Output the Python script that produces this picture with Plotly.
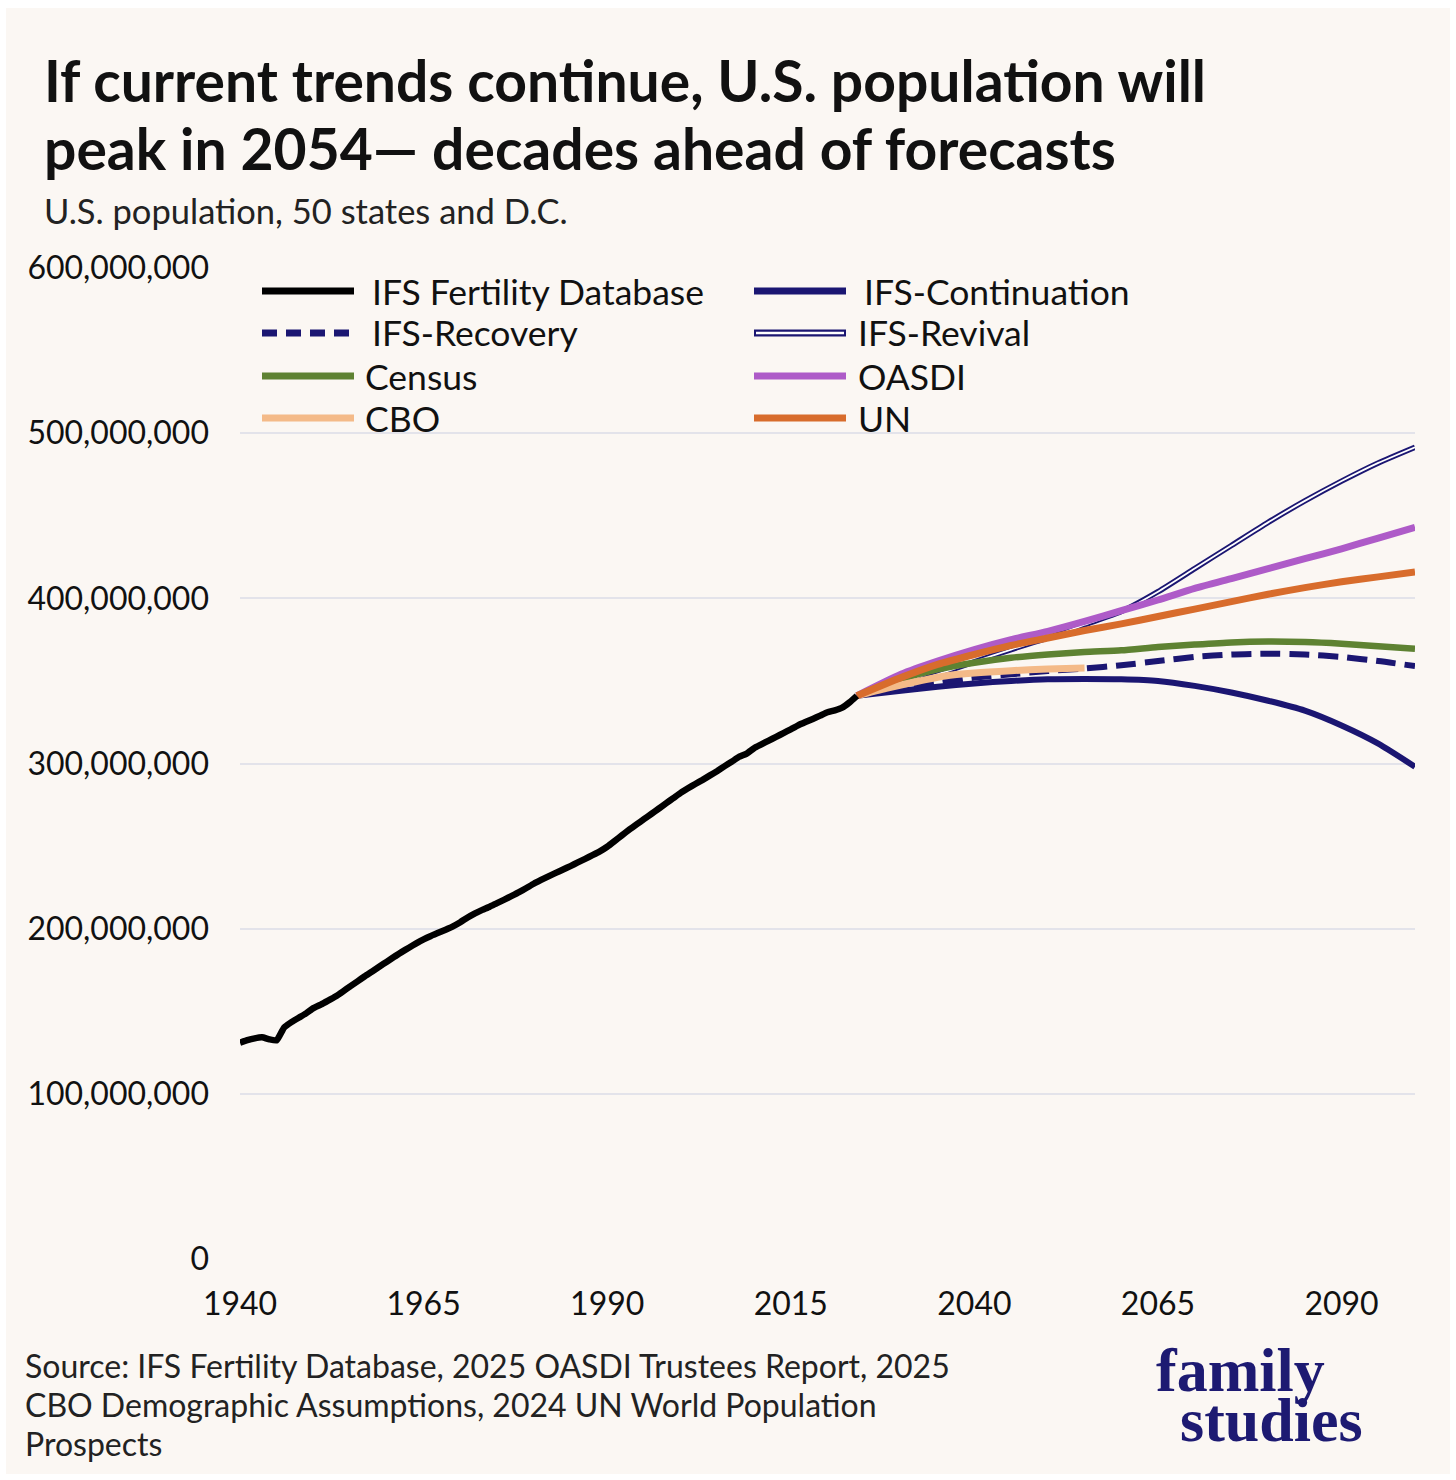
import plotly.graph_objects as go

# ---------------- data (millions) ----------------
hist_years = list(range(1940, 2025))
hist_pop = [131.0, 132.5, 133.6, 134.2, 133.0, 132.4, 140.1, 143.4, 146.1, 148.7,
            151.9, 154.0, 156.4, 158.9, 161.9, 165.1, 168.1, 171.2, 174.1, 177.1,
            180.0, 183.0, 185.8, 188.5, 191.1, 193.5, 195.6, 197.5, 199.4, 201.4,
            203.9, 206.8, 209.3, 211.4, 213.3, 215.5, 217.6, 219.8, 222.1, 224.6,
            227.2, 229.5, 231.7, 233.8, 235.8, 237.9, 240.1, 242.3, 244.5, 246.8,
            249.6, 253.0, 256.5, 259.9, 263.1, 266.3, 269.4, 272.6, 275.9, 279.0,
            282.2, 285.0, 287.6, 290.1, 292.8, 295.5, 298.4, 301.2, 304.1, 306.0,
            309.3, 311.6, 313.9, 316.1, 318.4, 320.7, 323.1, 325.1, 327.0, 329.0,
            331.0, 332.2, 333.8, 337.0, 341.0]

proj_years = [2024, 2030, 2035, 2040, 2045, 2050, 2055, 2060, 2065, 2070,
              2075, 2080, 2085, 2090, 2095, 2100]
ifs_continuation = [341, 344, 346.5, 348.5, 350, 351, 351.2, 351, 350, 347,
                    343, 338, 332, 323, 312, 298]
ifs_recovery = [341, 346, 349, 352, 354, 356, 357.5, 359.5, 362, 364.5,
                366, 366.5, 366, 364.5, 362, 359]
ifs_revival = [341, 347, 354, 361.5, 369, 376, 384, 392, 404, 418,
               432, 446, 459, 471, 482, 491.5]
census = [341, 351, 357, 361, 364, 366, 367.5, 368.5, 370.5, 372,
          373.3, 373.8, 373.5, 372.5, 371, 369.5]
oasdi = [341, 354, 362, 369, 375, 380, 386, 392.5, 399, 406,
         412, 418, 424, 430, 436.5, 443]
un = [341, 352, 360, 366, 371.5, 376, 380.5, 384.5, 389, 393.5,
      398, 402.5, 406.5, 410, 413, 416]
cbo_years = [2024, 2028, 2032, 2036, 2040, 2045, 2050, 2055]
cbo = [341, 345.5, 349.5, 353, 354.8, 356.2, 357.2, 357.8]

x_ticks = [1940, 1965, 1990, 2015, 2040, 2065, 2090]
y_ticks = [0, 100e6, 200e6, 300e6, 400e6, 500e6, 600e6]
y_tick_labels = ["0", "100,000,000", "200,000,000", "300,000,000",
                 "400,000,000", "500,000,000", "600,000,000"]

legend_items = [
    ("IFS Fertility Database", "#000000", "solid", 0, 0),
    ("IFS-Continuation", "#1B1672", "solid", 1, 0),
    ("IFS-Recovery", "#1B1672", "dash", 0, 1),
    ("IFS-Revival", "#1B1672", "double", 1, 1),
    ("Census", "#5E8232", "solid", 0, 2),
    ("OASDI", "#AE5BC8", "solid", 1, 2),
    ("CBO", "#F4BA88", "solid", 0, 3),
    ("UN", "#D86C2C", "solid", 1, 3),
]

title_lines = ["If current trends continue, U.S. population will",
               "peak in 2054\u2014 decades ahead of forecasts"]
subtitle = "U.S. population, 50 states and D.C."
source_lines = ["Source: IFS Fertility Database, 2025 OASDI Trustees Report, 2025",
                "CBO Demographic Assumptions, 2024 UN World Population",
                "Prospects"]

# ---------------- colours / layout constants ----------------
W, H = 1456, 1480
ML, MR, MT, MB = 240, 41, 268, 221
PW, PH = W - ML - MR, H - MT - MB
BG = "#FBF7F3"
NAVY = "#1B1672"
FONT = "Lato"


def px(x):
    return (x - ML) / PW


def py(y):
    return (H - MB - y) / PH


def m(v):
    return [a * 1e6 for a in v]


fig = go.Figure()

fig.add_trace(go.Scatter(x=proj_years, y=m(ifs_continuation), mode="lines",
                         line=dict(color=NAVY, width=6, shape="spline", smoothing=0.6),
                         showlegend=False))
fig.add_trace(go.Scatter(x=proj_years, y=m(ifs_recovery), mode="lines",
                         line=dict(color=NAVY, width=6, dash="20px,9px", shape="spline", smoothing=0.6),
                         showlegend=False))
fig.add_trace(go.Scatter(x=proj_years, y=m(ifs_revival), mode="lines",
                         line=dict(color=NAVY, width=5.5, shape="spline", smoothing=0.6),
                         showlegend=False))
fig.add_trace(go.Scatter(x=proj_years, y=m(ifs_revival), mode="lines",
                         line=dict(color="#FFFFFF", width=1.8, shape="spline", smoothing=0.6),
                         showlegend=False))
fig.add_trace(go.Scatter(x=proj_years, y=m(census), mode="lines",
                         line=dict(color="#5E8232", width=6.5, shape="spline", smoothing=0.6),
                         showlegend=False))
fig.add_trace(go.Scatter(x=cbo_years, y=m(cbo), mode="lines",
                         line=dict(color="#F4BA88", width=7, shape="spline", smoothing=0.6),
                         showlegend=False))
fig.add_trace(go.Scatter(x=proj_years, y=m(oasdi), mode="lines",
                         line=dict(color="#AE5BC8", width=7, shape="spline", smoothing=0.6),
                         showlegend=False))
fig.add_trace(go.Scatter(x=proj_years, y=m(un), mode="lines",
                         line=dict(color="#D86C2C", width=7, shape="spline", smoothing=0.6),
                         showlegend=False))
fig.add_trace(go.Scatter(x=hist_years, y=m(hist_pop), mode="lines",
                         line=dict(color="#000000", width=6.5, shape="spline", smoothing=0.4),
                         showlegend=False))

shapes = []
annotations = []

# card background with thin white frame
shapes.append(dict(type="rect", xref="paper", yref="paper", layer="below",
                   x0=px(6), x1=px(1450), y0=py(1474), y1=py(8),
                   fillcolor=BG, line=dict(width=0)))

# custom legend
col_x = [(262, 354, 370), (754, 846, 862)]
row_y = [291, 333, 376, 418]
text_x_override = {"Census": 363, "CBO": 363, "IFS-Revival": 856, "OASDI": 856, "UN": 856}
for name, color, style, c, r in legend_items:
    x0, x1, tx = col_x[c]
    tx = text_x_override.get(name, tx)
    y = py(row_y[r])
    if style == "double":
        shapes.append(dict(type="line", xref="paper", yref="paper", x0=px(x0), x1=px(x1),
                           y0=y, y1=y, line=dict(color=color, width=7)))
        shapes.append(dict(type="line", xref="paper", yref="paper", x0=px(x0 + 2), x1=px(x1 - 2),
                           y0=y, y1=y, line=dict(color="#FFFFFF", width=2.5)))
    else:
        shapes.append(dict(type="line", xref="paper", yref="paper", x0=px(x0), x1=px(x1),
                           y0=y, y1=y,
                           line=dict(color=color, width=7,
                                     dash="15px,9px" if style == "dash" else "solid")))
    annotations.append(dict(text=name, xref="paper", yref="paper", x=px(tx), y=y,
                            xanchor="left", yanchor="middle", showarrow=False,
                            font=dict(family=FONT, size=35.5, color="#111111")))

# title / subtitle
for line, yc in zip(title_lines, [80, 148]):
    annotations.append(dict(text="<b>" + line + "</b>",
                            xref="paper", yref="paper", x=px(42), y=py(yc),
                            xanchor="left", yanchor="middle", align="left", showarrow=False,
                            font=dict(family=FONT, size=57, color="#111111")))
annotations.append(dict(text=subtitle,
                        xref="paper", yref="paper", x=px(42), y=py(211), xanchor="left", yanchor="middle",
                        align="left", showarrow=False,
                        font=dict(family=FONT, size=34.5, color="#222222")))
# source
for line, yc in zip(source_lines, [1365, 1404, 1443]):
    annotations.append(dict(text=line,
                            xref="paper", yref="paper", x=px(23), y=py(yc), xanchor="left", yanchor="middle",
                            align="left", showarrow=False,
                            font=dict(family=FONT, size=32, color="#222222")))
# logo
annotations.append(dict(text="<b>family</b>", xref="paper", yref="paper", x=px(1240), y=py(1370),
                        xanchor="center", yanchor="middle", showarrow=False,
                        font=dict(family="Liberation Serif", size=62, color="#1D1A72")))
annotations.append(dict(text="<b>studies</b>", xref="paper", yref="paper", x=px(1271), y=py(1420),
                        xanchor="center", yanchor="middle", showarrow=False,
                        font=dict(family="Liberation Serif", size=62, color="#1D1A72")))

fig.update_layout(
    width=W, height=H,
    margin=dict(l=ML, r=MR, t=MT, b=MB, pad=0),
    paper_bgcolor="#FFFFFF",
    plot_bgcolor="rgba(0,0,0,0)",
    showlegend=False,
    shapes=shapes,
    annotations=annotations,
    xaxis=dict(range=[1940, 2100], tickvals=x_ticks, ticktext=[str(t) for t in x_ticks],
               showgrid=False, zeroline=False, showline=False, ticks="",
               ticklabelstandoff=23,
               tickfont=dict(family=FONT, size=32, color="#111111"),
               fixedrange=True),
    yaxis=dict(range=[0, 600e6], tickvals=y_ticks, ticktext=y_tick_labels,
               showgrid=True, gridcolor="#E3E3EA", gridwidth=2, zeroline=False,
               showline=False, ticks="", ticklabelstandoff=30,
               tickfont=dict(family=FONT, size=32, color="#111111"),
               fixedrange=True),
)

fig.write_html("out.html")
